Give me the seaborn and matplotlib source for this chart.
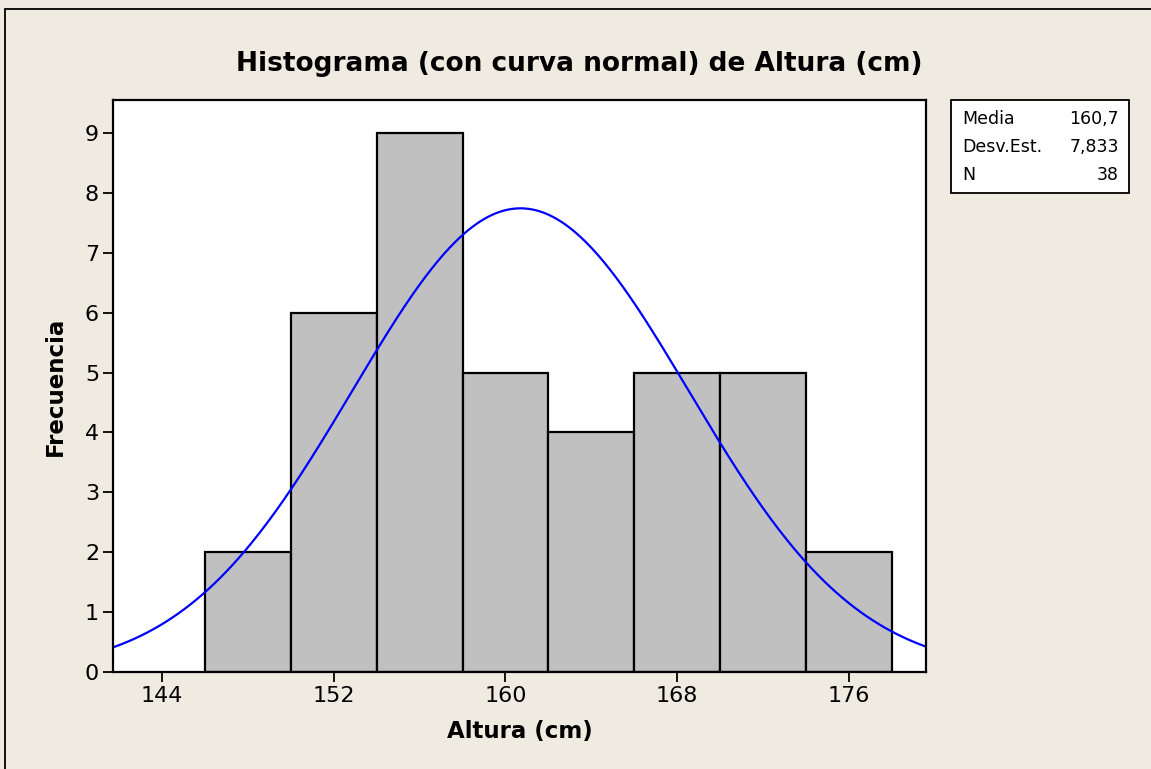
import numpy as np
import pandas as pd
import matplotlib
matplotlib.use("Agg")
import matplotlib.pyplot as plt
from matplotlib.patches import Rectangle
from matplotlib.lines import Line2D
import seaborn as sns

# Histogram bins (cm) and counts
bin_edges = [146, 150, 154, 158, 162, 166, 170, 174, 178]
bin_counts = [2, 6, 9, 5, 4, 5, 5, 2]

# Summary statistics
media = 160.7
desv_est = 7.833
n_obs = 38

x_ticks = [144, 152, 160, 168, 176]
y_ticks = [0, 1, 2, 3, 4, 5, 6, 7, 8, 9]
x_range = (141.72, 179.59)
y_range = (0, 9.55)

bg = "#EFEBE1"
sns.set_theme(style="white")
plt.rcParams["font.family"] = ["DejaVu Sans"]
plt.rcParams.update({"text.color": "black", "axes.labelcolor": "black",
                     "xtick.color": "black", "ytick.color": "black"})

fig = plt.figure(figsize=(11.51, 7.69), dpi=100, facecolor=bg)
ax = fig.add_axes([113 / 1151, 1 - 672 / 769, (926 - 113) / 1151, (672 - 100) / 769])
ax.set_facecolor("white")

centers = [(a + b) / 2 for a, b in zip(bin_edges[:-1], bin_edges[1:])]
df = pd.DataFrame({"Altura": centers, "Frecuencia": bin_counts})
sns.histplot(data=df, x="Altura", weights="Frecuencia", bins=bin_edges,
             color="#C0C0C0", edgecolor="black", linewidth=1.6, alpha=1, ax=ax)

# Fitted normal curve scaled to counts
width = bin_edges[1] - bin_edges[0]
xs = np.linspace(x_range[0], x_range[1], 400)
ys = n_obs * width / (desv_est * np.sqrt(2 * np.pi)) * np.exp(-0.5 * ((xs - media) / desv_est) ** 2)
sns.lineplot(x=xs, y=ys, color="#0000FF", linewidth=1.6, ax=ax)

ax.set_xlim(*x_range)
ax.set_ylim(*y_range)
ax.set_xticks(x_ticks)
ax.set_yticks(y_ticks)
ax.tick_params(axis="both", direction="out", length=7, width=1.3, color="black",
               labelcolor="black", labelsize=16, pad=3, bottom=True, left=True)
for s in ax.spines.values():
    s.set_color("black")
    s.set_linewidth(1.6)

ax.set_xlabel("Altura (cm)", fontsize=16.5, fontweight="bold", labelpad=10, color="black")
ax.set_ylabel("Frecuencia", fontsize=16.5, fontweight="bold", labelpad=13, color="black")
fig.text(579 / 1151, 1 - 64 / 769, "Histograma (con curva normal) de Altura (cm)",
         ha="center", va="center", fontsize=19, fontweight="bold", color="black")

# Statistics box
bx0, bx1 = 951 / 1151, 1129 / 1151
by0, by1 = 1 - 193 / 769, 1 - 100 / 769
fig.patches.append(Rectangle((bx0, by0), bx1 - bx0, by1 - by0, transform=fig.transFigure,
                             facecolor="white", edgecolor="black", linewidth=1.3))
labels = ["Media", "Desv.Est.", "N"]
values = [f"{media:.1f}".replace(".", ","), f"{desv_est:.3f}".replace(".", ","), f"{n_obs}"]
for i, (lab, val) in enumerate(zip(labels, values)):
    yy = 1 - (119 + i * 28) / 769
    fig.text(962 / 1151, yy, lab, ha="left", va="center", fontsize=12.5, color="black")
    fig.text(1119 / 1151, yy, val, ha="right", va="center", fontsize=12.5, color="black")

# Outer frame lines (top and left)
fig.lines.append(Line2D([5 / 1151, 1], [1 - 9 / 769, 1 - 9 / 769], transform=fig.transFigure,
                        color="black", linewidth=1.3))
fig.lines.append(Line2D([5 / 1151, 5 / 1151], [0, 1 - 9 / 769], transform=fig.transFigure,
                        color="black", linewidth=1.3))

fig.savefig("out.png", dpi=100, facecolor=bg)
